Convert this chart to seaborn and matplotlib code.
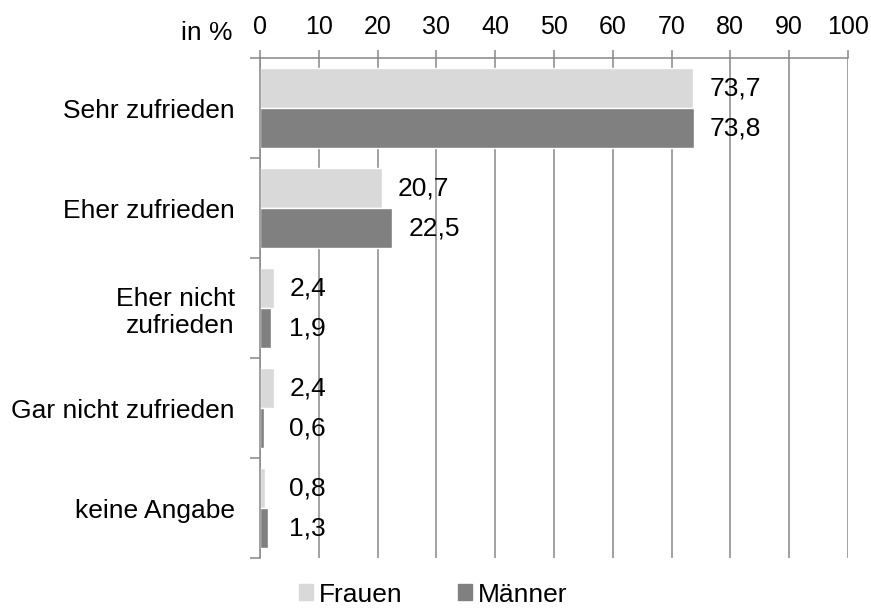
import pandas as pd
import matplotlib.pyplot as plt
import seaborn as sns

# Data
categories = ["Sehr zufrieden", "Eher zufrieden", "Eher nicht\nzufrieden",
              "Gar nicht zufrieden", "keine Angabe"]
frauen = [73.7, 20.7, 2.4, 2.4, 0.8]
maenner = [73.8, 22.5, 1.9, 0.6, 1.3]
series = ["Frauen", "Männer"]
colors = {"Frauen": "#D9D9D9", "Männer": "#808080"}
x_ticks = list(range(0, 101, 10))

sns.set_style("white")
plt.rcParams['font.family'] = ['Liberation Sans', 'DejaVu Sans']
plt.rcParams['font.size'] = 19
plt.rcParams['text.color'] = 'black'
plt.rcParams['xtick.labelcolor'] = 'black'
plt.rcParams['ytick.labelcolor'] = 'black'

df = pd.DataFrame({
    "Kategorie": categories * 2,
    "Wert": frauen + maenner,
    "Gruppe": ["Frauen"] * len(categories) + ["Männer"] * len(categories),
})

fig = plt.figure(figsize=(8.71, 6.10), dpi=100)
ax = fig.add_axes([0.2985, 0.0852, 0.675, 0.8197])

sns.barplot(data=df, x="Wert", y="Kategorie", hue="Gruppe", orient="h",
            palette=colors, width=0.8, saturation=1, ax=ax, legend=False, zorder=2)

grid_col = "#888888"
ax.set_xlim(0, 100)
ax.set_ylim(len(categories) - 0.5, -0.5)
ax.set_xticks(x_ticks)
ax.xaxis.tick_top()
ax.grid(axis="x", color=grid_col, linewidth=1.1, zorder=0)
ax.set_axisbelow(True)
ax.tick_params(axis="x", direction="out", length=6, width=1.1, color=grid_col,
               labelcolor="black", pad=8, labelsize=18)

# category labels at centres, tick marks at group boundaries
ax.set_yticks(range(len(categories)))
ax.set_yticklabels(categories, ha="right", multialignment="right")
ax.tick_params(axis="y", which="major", length=0, pad=18, labelsize=19,
               labelcolor="black")
ax.set_yticks([i - 0.5 for i in range(len(categories) + 1)], minor=True)
ax.tick_params(axis="y", which="minor", length=7, width=1.1, color=grid_col, left=True)

for side in ["right", "bottom"]:
    ax.spines[side].set_visible(False)
for side in ["left", "top"]:
    ax.spines[side].set_color(grid_col)
    ax.spines[side].set_linewidth(1.1)

ax.set_xlabel("")
ax.set_ylabel("")
fig.text(0.2675, 0.946, "in %", ha="right", va="center", fontsize=19, color="black")

# value labels
for i, cat in enumerate(categories):
    for j, vals in enumerate([frauen, maenner]):
        v = vals[i]
        y = i - 0.2 + 0.4 * j
        ax.annotate(f"{v:.1f}".replace(".", ","), xy=(max(v, 2.2), y),
                    xytext=(16, 0), textcoords="offset pixels",
                    ha="left", va="center", fontsize=19, color="black", zorder=5)

handles = [plt.Rectangle((0, 0), 1, 1, color=colors[s]) for s in series]
fig.legend(handles, series, loc="center", bbox_to_anchor=(0.497, 0.025),
           ncol=2, frameon=False, fontsize=19, handlelength=0.55, handleheight=0.55,
           handletextpad=0.2, columnspacing=2.1, borderpad=0, borderaxespad=0,
           labelcolor="black")

fig.savefig("out.png", dpi=100)
